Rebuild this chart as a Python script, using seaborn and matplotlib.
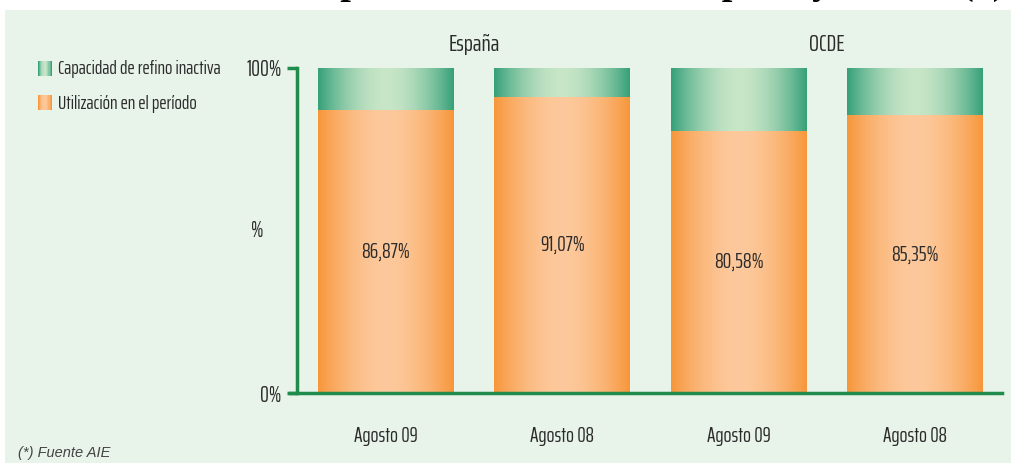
import numpy as np
import pandas as pd
import matplotlib
matplotlib.use("Agg")
import matplotlib.pyplot as plt
import seaborn as sns
from matplotlib import font_manager
from matplotlib.patches import Rectangle
from matplotlib.legend_handler import HandlerBase
from matplotlib.colors import to_rgb

# ---- data ----
periods = ["Agosto 09", "Agosto 08", "Agosto 09", "Agosto 08"]
regions = ["España", "España", "OCDE", "OCDE"]
utilization = [86.87, 91.07, 80.58, 85.35]
total_capacity = [100, 100, 100, 100]
legend_labels = ["Capacidad de refino inactiva", "Utilización en el período"]
y_ticks = [0, 100]
y_tick_labels = ["0%", "100%"]
title = "Utilización de la capacidad de refino en España y OCDE (*)"
source_note = "(*) Fuente AIE"

# ---- style ----
sns.set_theme(style="white")
fonts = {(f.name, f.stretch) for f in font_manager.fontManager.ttflist}
font_names = {n for n, _ in fonts}
candidates = [("Saira Extra Condensed", None), ("Saira ExtraCondensed", None),
              ("Saira", "extra-condensed"), ("Pathway Gothic One", None),
              ("Antonio", None), ("Open Sans", "condensed")]
narrow = dict(family="DejaVu Sans")
for name, stretch in candidates:
    if stretch is None and name in font_names:
        narrow = dict(family=name)
        break
    if stretch is not None and (name, stretch) in fonts:
        narrow = dict(family=name, stretch=stretch)
        break
plt.rcParams["font.family"] = [narrow["family"], "DejaVu Sans"]

panel_bg = "#e8f3e9"
axis_green = "#1f8c4c"
text_col = "#2b2b2b"
orange_edge, orange_mid = "#f7963a", "#fdc99c"
green_edge, green_mid = "#35a079", "#c8e6c8"


def gradient_row(edge, mid, n=256):
    t = np.abs(np.linspace(-1, 1, n)) ** 1.8
    e, m = np.array(to_rgb(edge)), np.array(to_rgb(mid))
    return (m[None, :] + (e - m)[None, :] * t[:, None])[None, :, :]


W, H = 1012, 463
fig = plt.figure(figsize=(W / 100, H / 100), dpi=100, facecolor="white")
fig.patches.append(Rectangle((5 / W, 0), 1 - 5 / W, 1 - 10 / H,
                             transform=fig.transFigure, facecolor=panel_bg,
                             edgecolor="none", zorder=-10))

ax = fig.add_axes([297 / W, 70 / H, (1002 - 297) / W, (393 - 68) / H])
ax.set_facecolor("none")

keys = [f"{r} {p} {i}" for i, (r, p) in enumerate(zip(regions, periods))]
df = pd.DataFrame({"key": keys, "total": total_capacity, "used": utilization})

sns.barplot(data=df, x="key", y="total", order=keys, color=green_edge,
            width=0.77, saturation=1, ax=ax)
n_green = len(ax.patches)
sns.barplot(data=df, x="key", y="used", order=keys, color=orange_edge,
            width=0.77, saturation=1, ax=ax)

# horizontal gradient fill over every bar
for i, p in enumerate(ax.patches):
    x0, y0, w, h = p.get_x(), p.get_y(), p.get_width(), p.get_height()
    is_green = i < n_green
    grad = gradient_row(green_edge, green_mid) if is_green else gradient_row(orange_edge, orange_mid)
    ax.imshow(grad, extent=[x0, x0 + w, y0, y0 + h], aspect="auto",
              interpolation="bilinear", zorder=2 if is_green else 3)
    p.set_visible(False)

fs = 15.5
for i, v in enumerate(utilization):
    ax.text(i, v / 2, f"{v:.2f}".replace(".", ",") + "%", ha="center",
            va="center", fontsize=fs, color=text_col, zorder=5, **narrow)

ax.set_xlim(-0.504, 3.493)
ax.set_ylim(0, 100)
ax.set_yticks(y_ticks)
ax.set_yticklabels(y_tick_labels, fontsize=16, color=text_col, **narrow)
ax.set_xticks(range(len(periods)))
ax.set_xticklabels(periods, fontsize=15, color=text_col, **narrow)
ax.tick_params(axis="x", length=0, pad=24)
ax.tick_params(axis="y", length=7, width=2.5, color=axis_green, pad=4, left=True)
ax.set_xlabel("")
ax.set_ylabel("%", rotation=0, fontsize=16, color=text_col, ha="center",
              va="center", **narrow)
ax.yaxis.set_label_coords((257 - 297) / (1002 - 297), 0.5)

for s in ["top", "right"]:
    ax.spines[s].set_visible(False)
for s in ["left", "bottom"]:
    ax.spines[s].set_color(axis_green)
    ax.spines[s].set_linewidth(2.5)
    ax.spines[s].set_zorder(6)
ax.spines["bottom"].set_bounds(-0.544, 3.493)

# group headings above the pairs of bars
for x, name in [(0.5, "España"), (2.5, "OCDE")]:
    ax.annotate(name, xy=(x, 100), xytext=(0, 17), textcoords="offset points",
                ha="center", va="center", fontsize=17, color=text_col,
                annotation_clip=False, **narrow)


class GradientHandler(HandlerBase):
    def __init__(self, edge, mid):
        super().__init__()
        self.edge, self.mid = edge, mid

    def create_artists(self, legend, orig_handle, xdescent, ydescent,
                       width, height, fontsize, trans):
        cols = gradient_row(self.edge, self.mid, n=12)[0]
        n = len(cols)
        side = width
        arts = []
        for k, c in enumerate(cols):
            r = Rectangle((-xdescent + k * side / n, -ydescent - 1.5), side / n + 0.2,
                          height + 2, facecolor=c, edgecolor="none",
                          transform=trans)
            arts.append(r)
        return arts


h_green = Rectangle((0, 0), 1, 1)
h_orange = Rectangle((0, 0), 1, 1)
leg = fig.legend([h_green, h_orange], legend_labels,
                 handler_map={h_green: GradientHandler(green_edge, green_mid),
                              h_orange: GradientHandler(orange_edge, orange_mid)},
                 loc="upper left", bbox_to_anchor=(20 / W, 1 - 43 / H),
                 frameon=False, handlelength=0.75, handleheight=0.6,
                 handletextpad=0.3, labelspacing=0.85,
                 labelcolor=text_col, prop=dict(size=14, **narrow))

fig.text(18 / W, 10 / H, source_note, fontsize=10.5, style="italic",
         color="#444444", family="Liberation Sans", va="center")

# heading sits mostly above the canvas edge
fig.text(1006 / W, 1 + 6 / H, title, ha="right", va="baseline",
         fontsize=27.5, fontweight="bold", family="Liberation Serif",
         color="black", zorder=-1)

fig.savefig("out.png", dpi=100, facecolor="white")
